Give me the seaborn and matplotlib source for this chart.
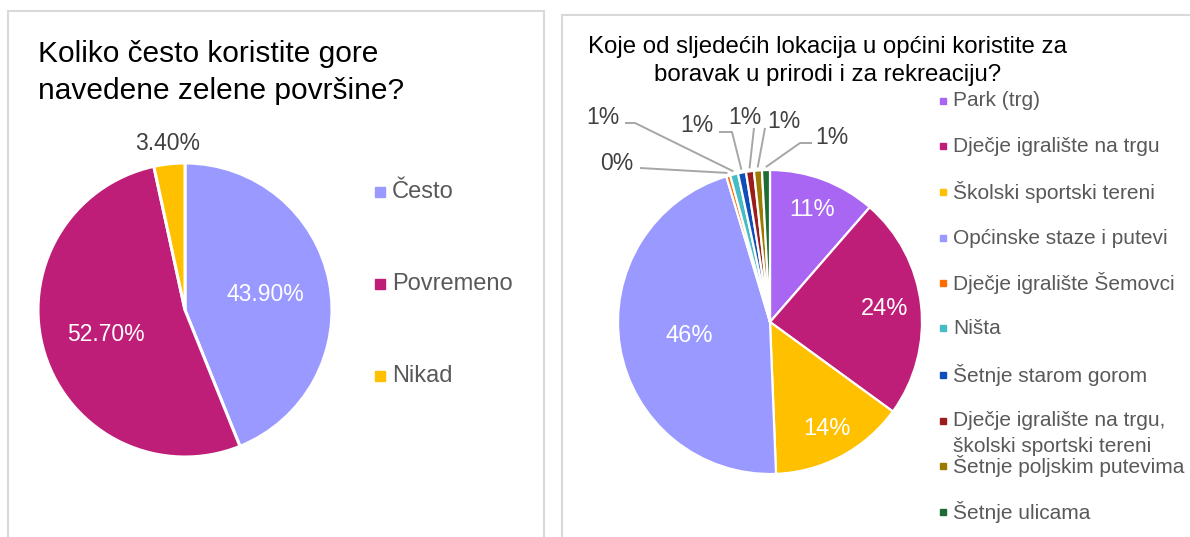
import matplotlib
matplotlib.use("Agg")
import matplotlib.pyplot as plt
import seaborn as sns
from matplotlib.patches import Rectangle
import numpy as np

# --- data -------------------------------------------------------------
freq_title = ["Koliko često koristite gore", "navedene zelene površine?"]
freq_labels = ["Često", "Povremeno", "Nikad"]
freq_values = [43.9, 52.7, 3.4]
freq_colors = ["#9999FF", "#BE1E78", "#FFC000"]

loc_title = ["Koje od sljedećih lokacija u općini koristite za",
             "boravak u prirodi i za rekreaciju?"]
loc_labels = ["Park (trg)", "Dječje igralište na trgu", "Školski sportski tereni",
              "Općinske staze i putevi", "Dječje igralište Šemovci", "Ništa",
              "Šetnje starom gorom",
              "Dječje igralište na trgu,\nškolski sportski tereni",
              "Šetnje poljskim putevima", "Šetnje ulicama"]
loc_counts = [27, 56, 34, 109, 1, 2, 2, 2, 2, 2]
loc_colors = ["#A866F2", "#BE1E78", "#FFC000", "#9999FF", "#FF6D01",
              "#46BDC6", "#0F4DB8", "#9B1C1C", "#9C7A00", "#1E6B35"]

# --- style ------------------------------------------------------------
sns.set_theme(style="white")
plt.rcParams["font.family"] = ["Liberation Sans", "DejaVu Sans"]

W, H = 1190, 537
fig = plt.figure(figsize=(W / 100, H / 100), dpi=100)
ax = fig.add_axes([0, 0, 1, 1])


def Y(y):
    """Canvas helper: pixel rows counted from the top."""
    return H - y


def polar(center, r, ang_deg):
    a = np.deg2rad(ang_deg)
    return center[0] + r * np.cos(a), center[1] + r * np.sin(a)


DARK = "#404040"
LEG = "#595959"
FRAME = "#D9D9D9"

# panel frames
ax.add_patch(Rectangle((7.5, -10), 536.5, Y(10.5) + 10, fill=False,
                       edgecolor=FRAME, linewidth=1.5))
ax.add_patch(Rectangle((561.5, -10), 660, Y(14.5) + 10, fill=False,
                       edgecolor=FRAME, linewidth=1.5))

# --- left pie: frequency of use ----------------------------------------
c1, r1 = (185, Y(310)), 147
w1, _ = ax.pie(freq_values, colors=freq_colors, startangle=90,
               counterclock=False, center=c1, radius=r1,
               wedgeprops=dict(edgecolor="white", linewidth=2.2))
for w, v, d in zip(w1, freq_values, [0.56, 0.56, 1.14]):
    mid = (w.theta1 + w.theta2) / 2
    x, y = polar(c1, d * r1, mid)
    ax.text(x, y, f"{v:.2f}%", ha="center", va="center", fontsize=16.5,
            color="white" if d < 1 else DARK)

ax.text(38, Y(62), freq_title[0], fontsize=21.5, color="black", va="baseline")
ax.text(38, Y(99), freq_title[1], fontsize=21.5, color="black", va="baseline")

for lab, col, yy in zip(freq_labels, freq_colors, [192, 284, 376]):
    ax.plot([380], [Y(yy)], marker="s", markersize=6.5, color=col, linestyle="none")
    ax.text(392, Y(yy), lab, fontsize=17, color=LEG, va="center")

# --- right pie: locations ---------------------------------------------
total = sum(loc_counts)
pcts = [c / total * 100 for c in loc_counts]
c2, r2 = (770, Y(322)), 152
w2, _ = ax.pie(loc_counts, colors=loc_colors, startangle=90,
               counterclock=False, center=c2, radius=r2,
               wedgeprops=dict(edgecolor="white", linewidth=1.6))

inside = [0.79, 0.76, 0.80, 0.54]
for w, p, d in zip(w2[:4], pcts[:4], inside):
    mid = (w.theta1 + w.theta2) / 2
    x, y = polar(c2, d * r2, mid)
    ax.text(x, y, f"{round(p)}%", ha="center", va="center", fontsize=17,
            color="white")

# small slices: labels pulled out with leader lines
callouts = [
    ((617, 163), [(640, 168)]),
    ((603, 117), [(625, 123), (635, 123)]),
    ((697, 125), [(719, 132), (732, 132)]),
    ((745, 117), [(754, 128)]),
    ((784, 122), [(765, 128)]),
    ((832, 137), [(812, 143), (800, 143)]),
]
for w, p, (txt, path) in zip(w2[4:], pcts[4:], callouts):
    mid = (w.theta1 + w.theta2) / 2
    tip = polar(c2, 1.02 * r2, mid)
    xs = [px for px, _ in path] + [tip[0]]
    ys = [Y(py) for _, py in path] + [tip[1]]
    ax.plot(xs, ys, color="#A6A6A6", linewidth=1.4, solid_capstyle="butt")
    ax.text(txt[0], Y(txt[1]), f"{round(p)}%", ha="center", va="center",
            fontsize=16.5, color=DARK)

ax.text(827, Y(53), loc_title[0], fontsize=17.3, color="black",
        ha="center", va="baseline")
ax.text(828, Y(81), loc_title[1], fontsize=17.3, color="black",
        ha="center", va="baseline")

leg_y = [101, 146, 192, 238, 283, 328, 375, 421, 466, 512]
for lab, col, yy in zip(loc_labels, loc_colors, leg_y):
    ax.plot([943], [Y(yy)], marker="s", markersize=5, color=col, linestyle="none")
    lines = lab.split("\n")
    for k, line in enumerate(lines):
        ax.text(953, Y(yy + 25 * k), line, fontsize=15, color=LEG, va="center")

ax.set_xlim(0, W)
ax.set_ylim(0, H)
ax.set_aspect("equal")
ax.axis("off")

fig.savefig("out.png", dpi=100, facecolor="white")
